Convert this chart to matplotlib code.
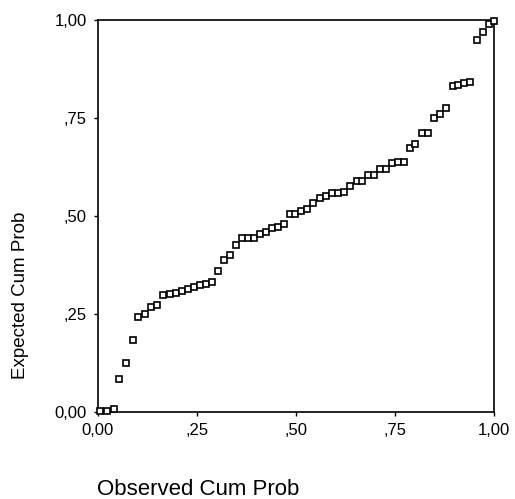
import matplotlib
matplotlib.use("Agg")
import matplotlib.pyplot as plt
from matplotlib.ticker import FuncFormatter

plt.rcParams['font.family'] = ['Liberation Sans', 'DejaVu Sans']

# observed vs expected cumulative probabilities
observed = [0.005, 0.023, 0.040, 0.053, 0.071, 0.088, 0.101, 0.119, 0.134, 0.149,
            0.164, 0.182, 0.197, 0.212, 0.227, 0.242, 0.258, 0.273, 0.288, 0.303,
            0.318, 0.333, 0.348, 0.364, 0.379, 0.394, 0.409, 0.424, 0.439, 0.455,
            0.470, 0.485, 0.497, 0.513, 0.528, 0.543, 0.561, 0.576, 0.591, 0.606,
            0.621, 0.636, 0.654, 0.667, 0.682, 0.697, 0.712, 0.727, 0.742, 0.758,
            0.773, 0.788, 0.801, 0.818, 0.833, 0.848, 0.864, 0.879, 0.896, 0.909,
            0.924, 0.939, 0.957, 0.972, 0.987, 1.000]
expected = [0.003, 0.003, 0.008, 0.084, 0.125, 0.184, 0.242, 0.250, 0.268, 0.273,
            0.298, 0.301, 0.304, 0.309, 0.314, 0.319, 0.324, 0.327, 0.332, 0.360,
            0.388, 0.401, 0.426, 0.444, 0.444, 0.444, 0.454, 0.459, 0.469, 0.472,
            0.480, 0.505, 0.505, 0.513, 0.518, 0.533, 0.546, 0.551, 0.559, 0.559,
            0.561, 0.577, 0.589, 0.589, 0.605, 0.605, 0.620, 0.620, 0.635, 0.638,
            0.638, 0.673, 0.684, 0.712, 0.712, 0.750, 0.760, 0.776, 0.832, 0.834,
            0.839, 0.842, 0.949, 0.969, 0.990, 0.997]

ticks = [0.0, 0.25, 0.5, 0.75, 1.0]


def comma_fmt(v, pos):
    # SPSS style: ",25" instead of "0.25", but "0,00" and "1,00" kept
    s = f"{v:.2f}".replace('.', ',')
    if 0 < v < 1:
        s = s[1:]
    return s


fig = plt.figure(figsize=(5.15, 4.99), dpi=100)
ax = fig.add_axes([98 / 515, 87 / 499, 396 / 515, 392 / 499])

ax.plot(observed, expected, linestyle='none', marker='s', markersize=4.8,
        markerfacecolor='white', markeredgecolor='black', markeredgewidth=1.2,
        clip_on=False, zorder=3)

ax.set_xlim(0, 1)
ax.set_ylim(0, 1)
ax.set_xticks(ticks)
ax.set_yticks(ticks)
ax.xaxis.set_major_formatter(FuncFormatter(comma_fmt))
ax.yaxis.set_major_formatter(FuncFormatter(comma_fmt))
ax.tick_params(direction='out', length=3, width=1, labelsize=12, pad=5)

for sp in ax.spines.values():
    sp.set_linewidth(1.2)
    sp.set_color('black')

fig.text(97 / 515, 4 / 499, 'Observed Cum Prob', fontsize=16,
         ha='left', va='baseline')
fig.text(21 / 515, 204 / 499, 'Expected Cum Prob', fontsize=13.5,
         rotation=90, ha='center', va='center')

fig.savefig('out.png', dpi=100)
